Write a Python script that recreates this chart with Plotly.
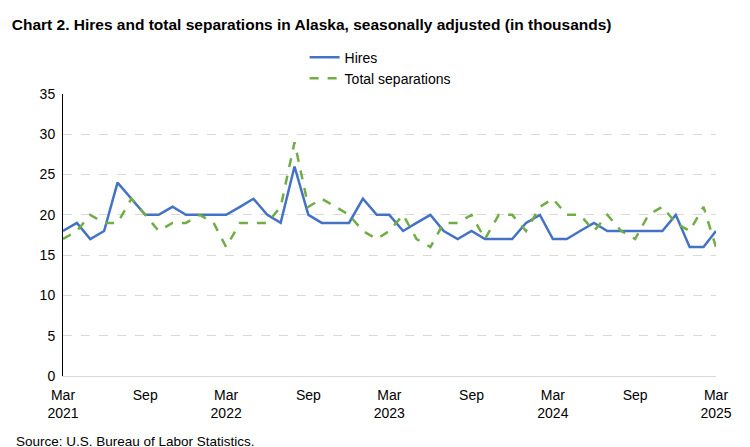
import pandas as pd
import plotly.graph_objects as go

months = pd.date_range("2021-03-01", "2025-03-01", freq="MS")
hires = [18, 19, 17, 18, 24, 22, 20, 20, 21, 20,
         20, 20, 20, 21, 22, 20, 19, 26, 20, 19, 19, 19,
         22, 20, 20, 18, 19, 20, 18, 17, 18, 17, 17, 17,
         19, 20, 17, 17, 18, 19, 18, 18, 18, 18, 18, 20,
         16, 16, 18]
separations = [17, 18, 20, 19, 19, 22, 20, 18, 19, 19,
               20, 19, 16, 19, 19, 19, 21, 29, 21, 22, 21, 20,
               18, 17, 18, 20, 17, 16, 19, 19, 20, 17, 20, 20,
               18, 21, 22, 20, 20, 18, 20, 18, 17, 20, 21, 19,
               18, 21, 16]
tick_dates = pd.date_range("2021-03-01", "2025-03-01", freq="6MS")
tick_text = ["Mar<br>2021", "Sep", "Mar<br>2022", "Sep", "Mar<br>2023",
             "Sep", "Mar<br>2024", "Sep", "Mar<br>2025"]

fig = go.Figure()
fig.add_trace(go.Scatter(x=months, y=hires, name="Hires", mode="lines",
                         line=dict(color="#4472C4", width=2.5)))
fig.add_trace(go.Scatter(x=months, y=separations, name="Total separations", mode="lines",
                         line=dict(color="#70AD47", width=2.5, dash="dash")))

fig.update_layout(
    width=750, height=447,
    font=dict(family="Liberation Sans, Arial", size=14, color="#000"),
    title=dict(text="<b>Chart 2. Hires and total separations in Alaska, seasonally adjusted (in thousands)</b>",
               x=0.005, y=0.975, font=dict(size=15.5)),
    legend=dict(x=0.37, y=0.925, yref="container", xanchor="left", yanchor="top",
                bgcolor="rgba(0,0,0,0)", font=dict(size=14), tracegroupgap=0),
    margin=dict(l=55, r=42, t=86, b=79, autoexpand=False),
    plot_bgcolor="white", paper_bgcolor="white",
    annotations=[dict(text="Source: U.S. Bureau of Labor Statistics.", xref="paper", yref="paper",
                      x=-0.075, y=-0.2, xanchor="left", yanchor="top", showarrow=False,
                      font=dict(size=13.5))],
)
fig.update_xaxes(range=[months[0], months[-1]], tickvals=tick_dates, ticktext=tick_text,
                 showline=True, linecolor="#d9d9d9", showgrid=False, ticks="",
                 ticklabelstandoff=6)
fig.update_yaxes(range=[0, 35], dtick=5, showgrid=True, gridcolor="#d9d9d9", griddash="dash",
                 showline=True, linecolor="black", zeroline=False, ticks="",
                 ticklabelstandoff=4)
fig.write_html("out.html")
